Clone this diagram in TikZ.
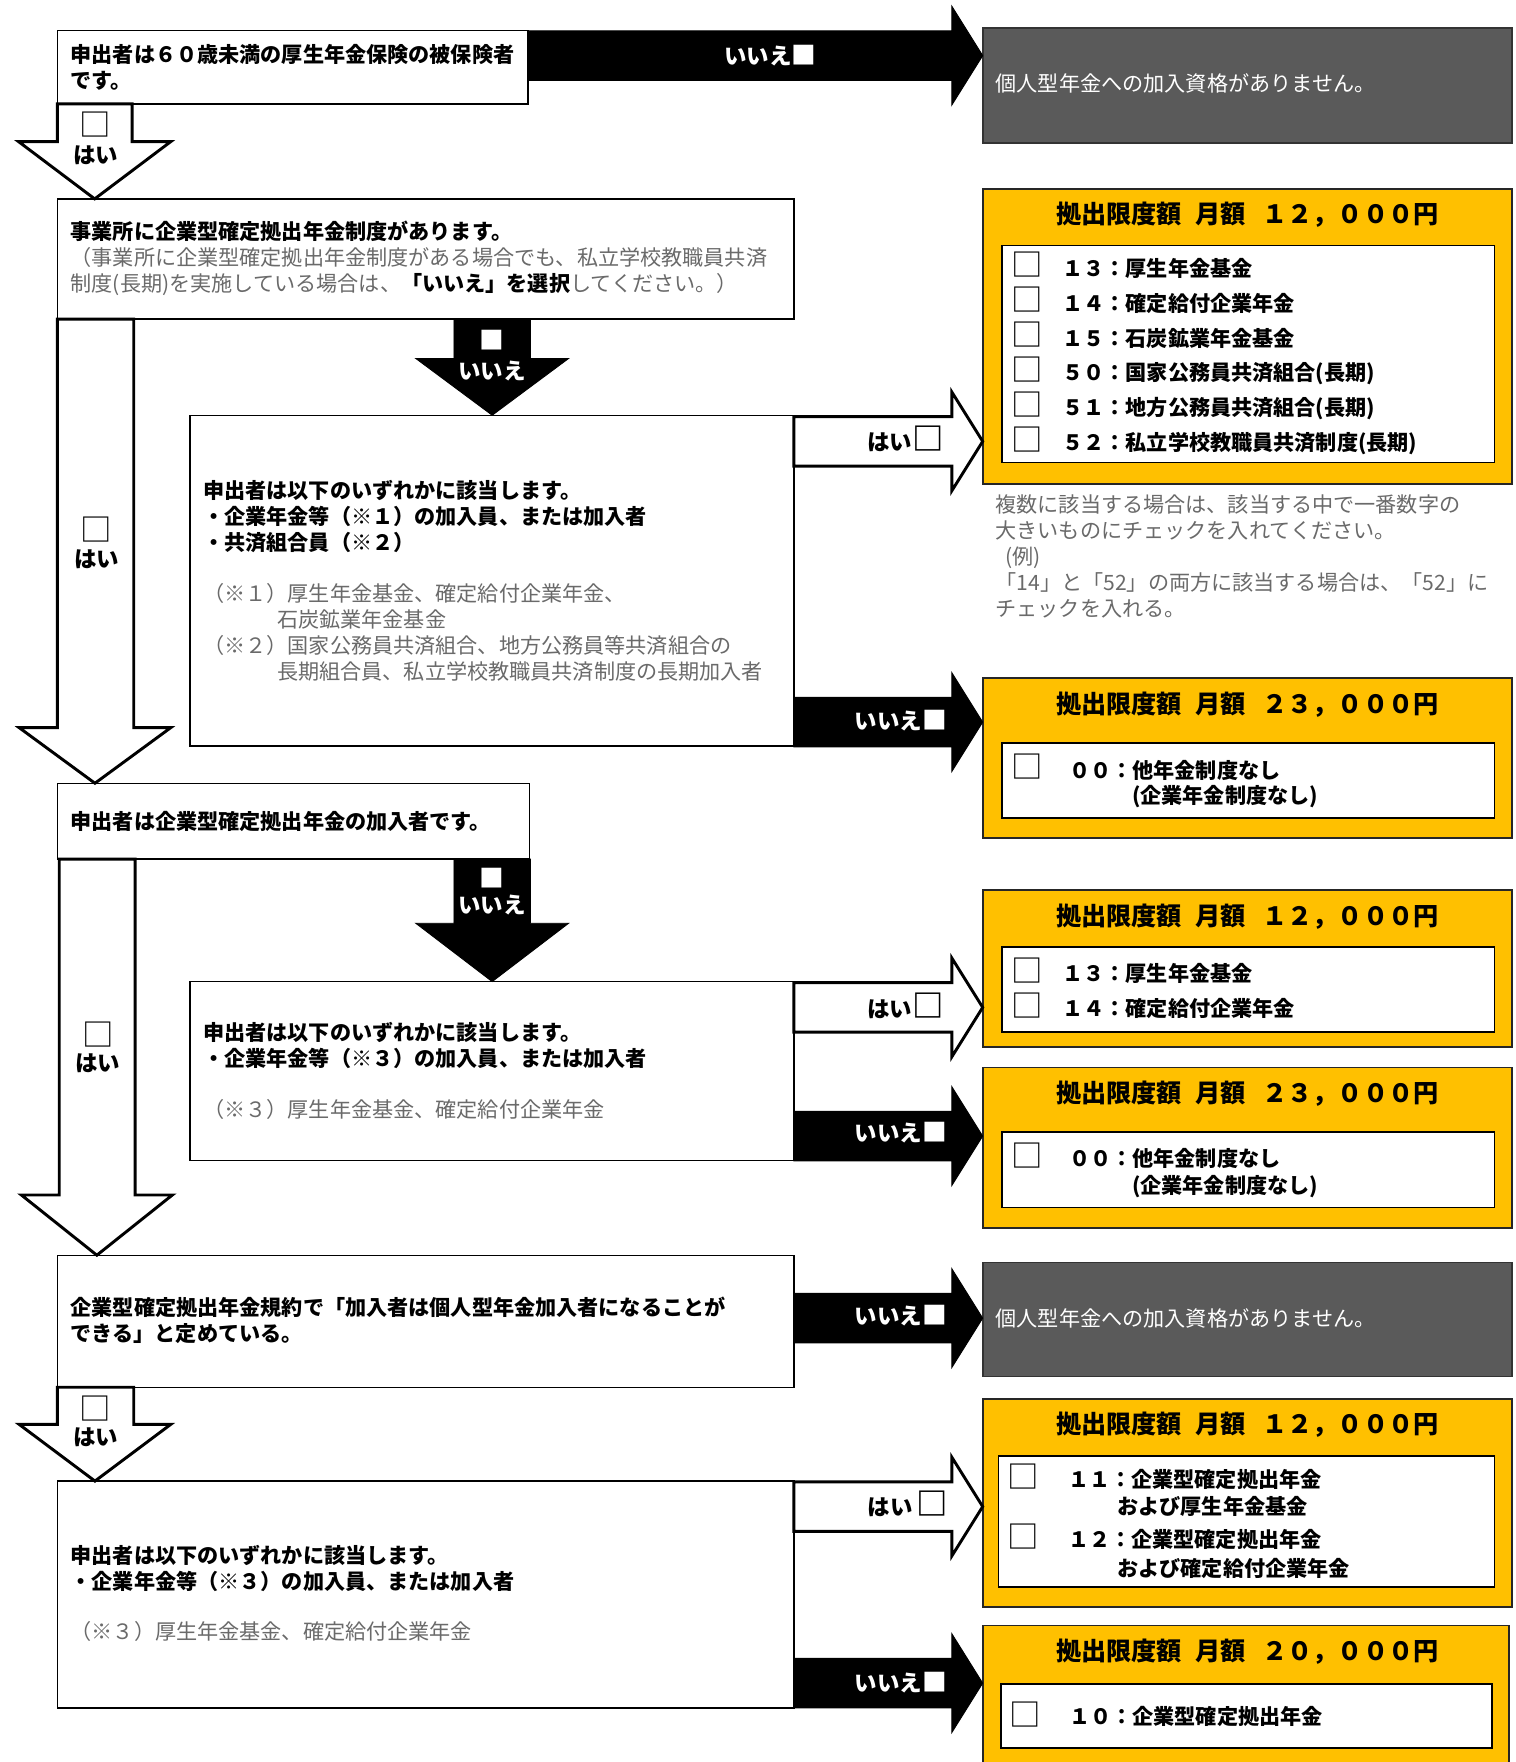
\documentclass[tikz,border=0pt]{standalone}
\usepackage{fontspec}
\setmainfont{Noto Sans CJK JP}
\usetikzlibrary{fit}
\definecolor{ylw}{HTML}{FFC000}
\definecolor{dgray}{HTML}{5A5A5A}
\definecolor{tgray}{HTML}{6A6A6A}
\newcommand\RArr[3]{\path[#1] (#2,#3-22) -- (847,#3-22) -- (847,#3-44) -- (874.5,#3) -- (847,#3+44) -- (847,#3+22) -- (#2,#3+22) -- cycle;}
\newcommand\DArr[8]{\path[#1] (#2,#4) -- (#2,#5) -- (#6,#5) -- ({(#6+#7)/2},#8) -- (#7,#5) -- (#3,#5) -- (#3,#4) -- cycle;}
\newcommand\bsq{{\fontsize{14}{14}\selectfont □}}
\newcommand\wsq{{\fontsize{11}{11}\selectfont ■}}
\begin{document}
\begin{tikzpicture}[x=0.5pt,y=-0.5pt,
  box/.style={draw=black, line width=0.6pt, fill=white, inner sep=0pt},
  gbox/.style={draw=black!80, line width=0.8pt, fill=dgray, inner sep=0pt},
  ybox/.style={draw=black!85, line width=0.8pt, fill=ylw, inner sep=0pt},
  ibox/.style={draw=black, line width=0.8pt, fill=white, inner sep=0pt},
  jtxt/.style={font=\fontsize{9.4}{11.5}\selectfont, align=left, inner sep=0pt, anchor=west},
  gtxt/.style={jtxt, text=tgray},
  wtxt/.style={jtxt, text=white},
  itm/.style={jtxt, font=\fontsize{9.4}{11.5}\selectfont\bfseries},
  ttl/.style={font=\fontsize{11.2}{13}\selectfont\bfseries, inner sep=0pt},
  lbl/.style={font=\fontsize{10}{12}\selectfont\bfseries, inner sep=0pt},
  wlbl/.style={lbl, text=white},
  chk/.style={font=\fontsize{14}{14}\selectfont, inner sep=0pt},
  warr/.style={draw=black, line width=1.3pt, fill=white, line join=miter},
  barr/.style={fill=black, draw=black, line width=0.4pt, line join=miter}]
\useasboundingbox (0,0) rectangle (1349,1568);
\fill[white] (0,0) rectangle (1349,1568);
\clip (0,0) rectangle (1349,1568);

% result boxes
\node[gbox, fit={(875,25)(1345.5,127)}] (g1) {};
\node[gbox, fit={(875,1123.5)(1345.5,1225)}] (g2) {};
\node[ybox, fit={(875,168)(1345.5,430.5)}] (y1) {};
\node[ibox, fit={(892,218.5)(1330,411.5)}] (y1i) {};
\node[ybox, fit={(875,603.5)(1345.5,746)}] (y2) {};
\node[ibox, fit={(892,661.5)(1330,728)}] (y2i) {};
\node[ybox, fit={(875,792)(1345.5,931.5)}] (y3) {};
\node[ibox, fit={(892,843)(1330,918.5)}] (y3i) {};
\node[ybox, fit={(875,950)(1345.5,1093)}] (y4) {};
\node[ibox, fit={(892,1007.5)(1330,1074.5)}] (y4i) {};
\node[ybox, fit={(875,1245)(1345.5,1430)}] (y5) {};
\node[ibox, fit={(888.5,1295.5)(1330,1412)}] (y5i) {};
\node[ybox, fit={(875,1446.5)(1343,1600)}] (y6) {};
\node[ibox, fit={(890.5,1498.5)(1327.5,1555.5)}] (y6i) {};

% question boxes
\node[box, fit={(51,27)(470,92.5)}] (q1) {};
\node[box, fit={(51,177)(706.5,284)}] (q2) {};
\node[box, fit={(169,369.5)(706.5,664)}] (q3) {};
\node[box, fit={(51,697)(471,764.5)}] (q4) {};
\node[box, fit={(169,873.5)(706.5,1032.5)}] (q5) {};
\node[box, fit={(51,1117)(706.5,1234.5)}] (q6) {};
\node[box, fit={(51,1318)(706.5,1520)}] (q7) {};

% down arrows
\DArr{warr}{51}{117.5}{92.5}{126}{16.5}{152}{177}
\DArr{warr}{51}{119}{284}{647.5}{17}{152}{697}
\DArr{warr}{52.7}{120.3}{764.5}{1063.4}{19}{153.4}{1117}
\DArr{warr}{51}{119}{1234.5}{1267.5}{17}{152}{1318}
\DArr{barr}{404}{472}{284}{319}{370}{506}{369.5}
\DArr{barr}{404}{472}{764.5}{821.6}{370}{506}{873.5}

% right arrows
\RArr{barr}{470}{49.5}
\RArr{warr}{706.5}{392.8}
\RArr{barr}{706.5}{642.6}
\RArr{warr}{706.5}{896.5}
\RArr{barr}{706.5}{1011}
\RArr{barr}{706.5}{1173}
\RArr{warr}{706.5}{1340.7}
\RArr{barr}{706.5}{1497.8}

% arrow labels
\node[wlbl, anchor=east] (l1) at (727,49.5) {いいえ\wsq};
\node[chk] (l2a) at (85,111) {□};
\node[lbl] (l2b) at (85,138) {はい};
\node[chk] (l3a) at (86,471.5) {□};
\node[lbl] (l3b) at (86,498) {はい};
\node[chk] (l4a) at (87,921) {□};
\node[lbl] (l4b) at (87,946) {はい};
\node[chk] (l5a) at (85,1253.5) {□};
\node[lbl] (l5b) at (85,1279) {はい};
\node[wlbl] (l6a) at (438,302.5) {\wsq};
\node[wlbl] (l6b) at (438,330) {いいえ};
\node[wlbl] (l7a) at (438,781) {\wsq};
\node[wlbl] (l7b) at (438,805) {いいえ};
\node[lbl, anchor=east] (l8) at (840,390.5) {はい\bsq};
\node[wlbl, anchor=east] (l9) at (843,641) {いいえ\wsq};
\node[lbl, anchor=east] (l10) at (840,895) {はい\bsq};
\node[wlbl, anchor=east] (l11) at (843,1008) {いいえ\wsq};
\node[wlbl, anchor=east] (l12) at (843,1171) {いいえ\wsq};
\node[lbl, anchor=east] (l13) at (844,1338.5) {はい\,\bsq};
\node[wlbl, anchor=east] (l14) at (843,1497) {いいえ\wsq};

% question texts
\node[jtxt] (q1t) at (62.5,60) {{\bfseries 申出者は６０歳未満の厚生年金保険の被保険者}\\{\bfseries です。}};
\node[jtxt] (q2t) at (62.5,230) {{\bfseries 事業所に企業型確定拠出年金制度があります。}\\{\color{tgray}（事業所に企業型確定拠出年金制度がある場合でも、私立学校教職員共済}\\{\color{tgray}制度(長期)を実施している場合は、}{\bfseries 「いいえ」を選択}{\color{tgray}してください。）}};
\node[jtxt] (q3t) at (180.5,459.5) {{\bfseries 申出者は以下のいずれかに該当します。}\\{\bfseries ・企業年金等（※１）の加入員、または加入者}\\{\bfseries ・共済組合員（※２）}};
\node[gtxt] (q3n) at (180.5,563) {（※１）厚生年金基金、確定給付企業年金、\\\hspace*{3.5em}石炭鉱業年金基金\\（※２）国家公務員共済組合、地方公務員等共済組合の\\\hspace*{3.5em}長期組合員、私立学校教職員共済制度の長期加入者};
\node[jtxt] (q4t) at (62.5,731) {{\bfseries 申出者は企業型確定拠出年金の加入者です。}};
\node[jtxt] (q5t) at (180.5,930.6) {{\bfseries 申出者は以下のいずれかに該当します。}\\{\bfseries ・企業年金等（※３）の加入員、または加入者}};
\node[gtxt] (q5n) at (180.5,987.7) {（※３）厚生年金基金、確定給付企業年金};
\node[jtxt] (q6t) at (62.5,1175.3) {{\bfseries 企業型確定拠出年金規約で「加入者は個人型年金加入者になることが}\\{\bfseries できる」と定めている。}};
\node[jtxt] (q7t) at (62.5,1395.8) {{\bfseries 申出者は以下のいずれかに該当します。}\\{\bfseries ・企業年金等（※３）の加入員、または加入者}};
\node[gtxt] (q7n) at (62.5,1452) {（※３）厚生年金基金、確定給付企業年金};

% gray result texts
\node[wtxt] (g1t) at (885.7,74.5) {個人型年金への加入資格がありません。};
\node[wtxt] (g2t) at (885.7,1173.7) {個人型年金への加入資格がありません。};

% yellow titles
\node[ttl] (y1h) at (1110,191.3) {拠出限度額\hspace{0.55em}月額\hspace{0.65em}１２，０００円};
\node[ttl] (y2h) at (1110,627.3) {拠出限度額\hspace{0.55em}月額\hspace{0.65em}２３，０００円};
\node[ttl] (y3h) at (1110,815.7) {拠出限度額\hspace{0.55em}月額\hspace{0.65em}１２，０００円};
\node[ttl] (y4h) at (1110,972.9) {拠出限度額\hspace{0.55em}月額\hspace{0.65em}２３，０００円};
\node[ttl] (y5h) at (1110,1268) {拠出限度額\hspace{0.55em}月額\hspace{0.65em}１２，０００円};
\node[ttl] (y6h) at (1110,1469.7) {拠出限度額\hspace{0.55em}月額\hspace{0.65em}２０，０００円};

% items y1
\node[chk] (c11) at (914.5,235.6) {□};
\node[itm] (t11) at (945,238.8) {１３：厚生年金基金};
\node[chk] (c12) at (914.5,266.7) {□};
\node[itm] (t12) at (945,269.9) {１４：確定給付企業年金};
\node[chk] (c13) at (914.5,297.8) {□};
\node[itm] (t13) at (945,301) {１５：石炭鉱業年金基金};
\node[chk] (c14) at (914.5,329) {□};
\node[itm] (t14) at (945,332.2) {５０：国家公務員共済組合(長期)};
\node[chk] (c15) at (914.5,360.2) {□};
\node[itm] (t15) at (945,363.4) {５１：地方公務員共済組合(長期)};
\node[chk] (c16) at (914.5,391.3) {□};
\node[itm] (t16) at (945,394.5) {５２：私立学校教職員共済制度(長期)};

% note
\node[gtxt] (nt) at (885.5,495.3) {複数に該当する場合は、該当する中で一番数字の\\大きいものにチェックを入れてください。\\\hspace*{0.45em}(例)\\「14」と「52」の両方に該当する場合は、「52」に\\チェックを入れる。};

% items y2
\node[chk] (c21) at (914.5,682) {□};
\node[itm] (t21) at (951,685.2) {００：他年金制度なし};
\node[itm] (t22) at (1007,708.9) {(企業年金制度なし)};

% items y3
\node[chk] (c31) at (914.5,863.5) {□};
\node[itm] (t31) at (945,866) {１３：厚生年金基金};
\node[chk] (c32) at (914.5,894.5) {□};
\node[itm] (t32) at (945,897.3) {１４：確定給付企業年金};

% items y4
\node[chk] (c41) at (914.5,1028) {□};
\node[itm] (t41) at (951,1030.8) {００：他年金制度なし};
\node[itm] (t42) at (1007,1056) {(企業年金制度なし)};

% items y5
\node[chk] (c51) at (911,1313.8) {□};
\node[itm] (t51) at (950,1317) {１１：企業型確定拠出年金};
\node[itm] (t52) at (994,1340.7) {および厚生年金基金};
\node[chk] (c52) at (911,1367.7) {□};
\node[itm] (t53) at (950,1370.4) {１２：企業型確定拠出年金};
\node[itm] (t54) at (994,1395.6) {および確定給付企業年金};

% items y6
\node[chk] (c61) at (912.5,1525.7) {□};
\node[itm] (t61) at (951,1527.5) {１０：企業型確定拠出年金};
\end{tikzpicture}
\end{document}
